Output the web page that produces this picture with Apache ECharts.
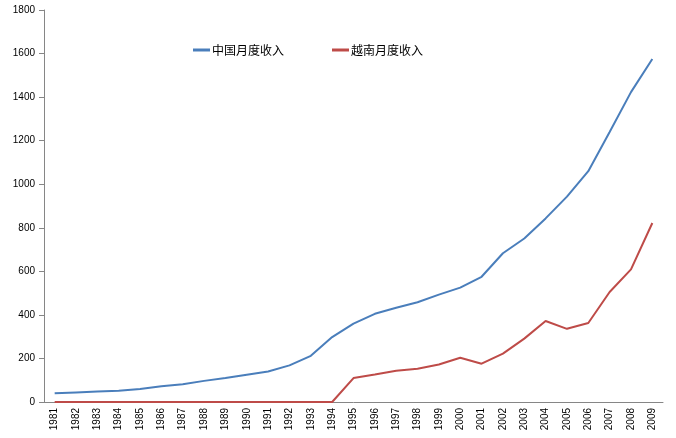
<!DOCTYPE html>
<html>
<head>
<meta charset="utf-8">
<script src="https://cdn.jsdelivr.net/npm/echarts@6/dist/echarts.min.js"></script>
<style>html,body{margin:0;padding:0;background:#fff}#c{width:676px;height:438px}</style>
</head>
<body>
<div id="c"></div>
<script>
var years = ['1981','1982','1983','1984','1985','1986','1987','1988','1989','1990','1991','1992','1993','1994','1995','1996','1997','1998','1999','2000','2001','2002','2003','2004','2005','2006','2007','2008','2009'];
var chinaIncome = [40,44,48,52,60,72,82,97,110,125,140,168,212,298,360,405,433,458,493,525,575,683,751,843,943,1060,1240,1423,1575];
var vietnamIncome = [0,0,0,0,0,0,0,0,0,0,0,0,0,0,110,126,143,153,172,203,176,222,291,372,336,363,505,609,822];
var seriesNames = ['中国月度收入','越南月度收入'];

var chart = echarts.init(document.getElementById('c'));
chart.setOption({
  animation: false,
  backgroundColor: '#fff',
  grid: {left: 44, right: 13, top: 10, bottom: 36, containLabel: false},
  legend: {
    left: 188, top: 39,
    icon: 'rect', itemWidth: 17, itemHeight: 3, itemGap: 48,
    textStyle: {fontFamily: 'Noto Sans CJK SC', fontSize: 12, color: '#000', padding: [0,0,0,-3]},
    data: seriesNames
  },
  xAxis: {
    type: 'category',
    data: years,
    boundaryGap: true,
    axisLine: {lineStyle: {color: '#868686'}},
    axisTick: {interval: 0, length: 5, lineStyle: {color: '#868686'}},
    axisLabel: {interval: 0, rotate: 90, fontFamily: 'Liberation Sans', fontSize: 10, color: '#000', margin: 6}
  },
  yAxis: {
    type: 'value',
    min: 0, max: 1800, interval: 200,
    splitLine: {show: false},
    axisLine: {show: true, lineStyle: {color: '#868686'}},
    axisTick: {show: true, length: 5, lineStyle: {color: '#868686'}},
    axisLabel: {fontFamily: 'Liberation Sans', fontSize: 10, color: '#000', margin: 9,
      formatter: function (v) { return String(v); }}
  },
  series: [
    {name: seriesNames[0], type: 'line', data: chinaIncome, showSymbol: false, symbol: 'none',
     lineStyle: {color: '#4a7ebb', width: 2}, itemStyle: {color: '#4a7ebb'}},
    {name: seriesNames[1], type: 'line', data: vietnamIncome, showSymbol: false, symbol: 'none',
     lineStyle: {color: '#be4b48', width: 2}, itemStyle: {color: '#be4b48'}}
  ]
});
</script>
</body>
</html>
